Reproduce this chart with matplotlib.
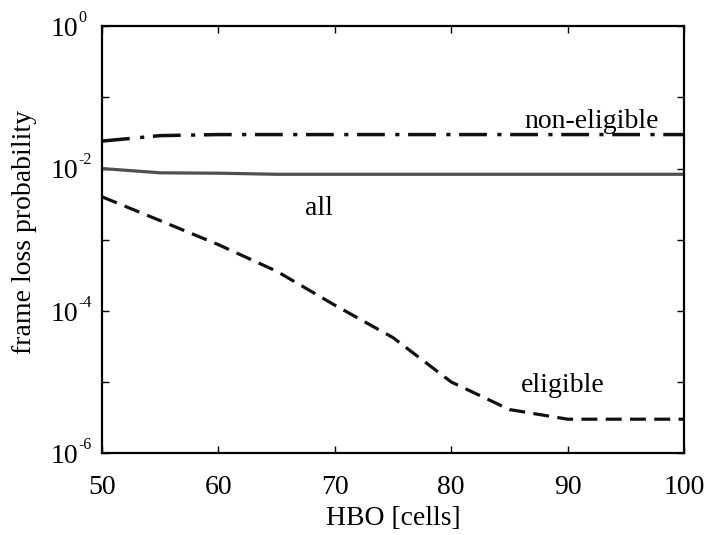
import numpy as np
import matplotlib
matplotlib.use('Agg')
import matplotlib.pyplot as plt
from matplotlib.ticker import FixedLocator, FuncFormatter, NullLocator

# HBO threshold in cells
hbo = [50, 55, 60, 65, 70, 75, 80, 85, 90, 95, 100]

# frame loss probability
loss_non_eligible = [0.0243, 0.029, 0.030, 0.030, 0.030, 0.030, 0.030, 0.030, 0.030, 0.030, 0.030]
loss_all = [0.0100, 0.0087, 0.0086, 0.0083, 0.0083, 0.0083, 0.0083, 0.0083, 0.0083, 0.0083, 0.0083]
loss_eligible = [4.0e-3, 1.85e-3, 8.5e-4, 3.6e-4, 1.2e-4, 4.2e-5, 1.0e-5, 4.1e-6, 3.0e-6, 3.0e-6, 3.0e-6]

plt.rcParams['font.family'] = ['Liberation Serif', 'DejaVu Serif']

fig = plt.figure(figsize=(7.14, 5.35), dpi=100)
ax = fig.add_axes([0.143, 0.153, 0.815, 0.798])

ax.plot(hbo, loss_non_eligible, color='#111111', lw=2.5, linestyle=(0, (8, 3, 1.2, 2.5)))
ax.plot(hbo, loss_all, color='#505050', lw=2.3, linestyle='-')
ax.plot(hbo, loss_eligible, color='#111111', lw=2.3, linestyle=(0, (5, 2.6)))

ax.set_yscale('log')
ax.set_xlim(50, 100)
ax.set_ylim(1e-6, 1e0)

ax.xaxis.set_major_locator(FixedLocator([50, 60, 70, 80, 90, 100]))
ax.yaxis.set_major_locator(FixedLocator([10.0 ** k for k in range(-6, 1)]))
ax.yaxis.set_minor_locator(NullLocator())
ax.yaxis.set_major_formatter(FuncFormatter(lambda v, p: ''))

# decade labels drawn as "10" with a small raised exponent, matlab style
for k in range(-6, 1, 2):
    ax.annotate('10', xy=(0, 10.0 ** k), xycoords=('axes fraction', 'data'),
                xytext=(-17.3, -2.5), textcoords='offset points',
                ha='right', va='center', fontsize=20)
    ax.annotate('%d' % k, xy=(0, 10.0 ** k),
                xycoords=('axes fraction', 'data'),
                xytext=(-16.8, 5.8), textcoords='offset points',
                ha='left', va='center', fontsize=11.5)

ax.tick_params(direction='in', top=True, right=True, length=5, width=1,
               labelsize=20, pad=16)
for s in ax.spines.values():
    s.set_linewidth(1.6)

ax.set_xlabel('HBO [cells]', fontsize=20, labelpad=4)
ax.set_ylabel('frame loss probability', fontsize=20)
ax.yaxis.set_label_coords(-0.112, 0.518)

ax.text(92.1, 0.046, 'non-eligible', fontsize=20, ha='center', va='center')
ax.text(68.6, 0.0027, 'all', fontsize=20, ha='center', va='center')
ax.text(89.6, 9.0e-6, 'eligible', fontsize=20, ha='center', va='center')

fig.savefig('out.png', dpi=100)
